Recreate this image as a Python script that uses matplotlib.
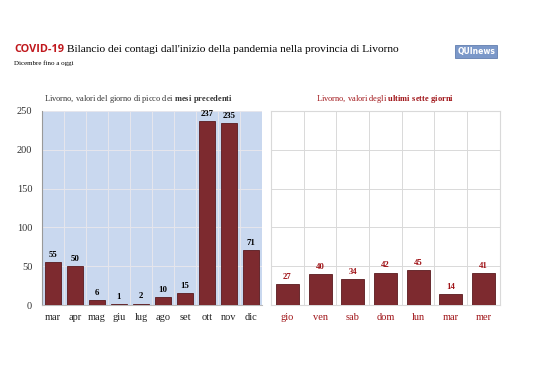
import numpy as np
import matplotlib.pyplot as plt

mesi = ['mar', 'apr', 'mag', 'giu', 'lug', 'ago', 'set', 'ott', 'nov', 'dic']
picchi = [55, 50, 6, 1, 2, 10, 15, 237, 235, 71]
giorni = ['gio', 'ven', 'sab', 'dom', 'lun', 'mar', 'mer']
ultimi = [27, 40, 34, 42, 45, 14, 41]
yticks = [0, 50, 100, 150, 200, 250]

bar_col = '#7d2a2f'
edge_col = '#5a1a1e'
red = '#a01418'
serif = 'Liberation Serif'

plt.rcParams['mathtext.fontset'] = 'custom'
plt.rcParams['mathtext.rm'] = serif
plt.rcParams['mathtext.bf'] = serif + ':bold'

fig = plt.figure(figsize=(5.38, 3.8), dpi=100)
fig.patch.set_facecolor('white')

# titolo
fig.text(0.026, 0.862, 'COVID-19', color='#c0171c', fontsize=7.8, fontweight='bold',
         family='Open Sans', va='baseline')
fig.text(0.125, 0.862, "Bilancio dei contagi dall'inizio della pandemia nella provincia di Livorno",
         fontsize=8.2, family=serif, va='baseline')
fig.text(0.026, 0.828, 'Dicembre fino a oggi', fontsize=5, family=serif, va='baseline')
fig.text(0.85, 0.858, 'QUInews', fontsize=5.5, fontweight='bold', color='white', family='DejaVu Sans',
         va='baseline', bbox=dict(boxstyle='square,pad=0.3', fc='#7b98c9', ec='#4f6fa4', lw=0.5))

# grafico sinistro
ax1 = fig.add_axes([0.078, 0.197, 0.409, 0.511])
x1 = np.arange(len(mesi))
ax1.set_facecolor('#c9d8ef')
ax1.bar(x1, picchi, width=0.7, color=bar_col, edgecolor=edge_col, linewidth=0.6, zorder=3)
for xi, v in zip(x1, picchi):
    ax1.text(xi, v + 4, str(v), ha='center', va='bottom', fontsize=6.3, fontweight='bold', family=serif)
ax1.set_xlim(-0.5, len(mesi) - 0.5)
ax1.set_ylim(0, 250)
ax1.set_yticks(yticks)
ax1.set_xticks(x1)
ax1.set_xticklabels(mesi, family=serif, fontsize=7.5, color='#222222')
ax1.set_yticklabels([str(t) for t in yticks], family=serif, fontsize=7.5, color='#333333')
ax1.set_xticks(np.arange(-0.5, len(mesi)), minor=True)
ax1.grid(which='minor', axis='x', color='#e6e6ec', lw=0.7, zorder=0)
ax1.grid(which='major', axis='y', color='#e6e6ec', lw=0.7, zorder=0)
ax1.tick_params(which='both', length=0)
ax1.tick_params(axis='x', pad=6)
ax1.tick_params(axis='y', pad=7)
for s in ax1.spines.values():
    s.set_visible(False)
ax1.spines['left'].set_visible(True)
ax1.spines['left'].set_color('#999999')
ax1.spines['bottom'].set_visible(True)
ax1.spines['bottom'].set_color('#bbbbbb')
ax1.text(0.44, 1.03, r'Livorno, valori del giorno di picco dei $\mathbf{mesi\ precedenti}$',
         transform=ax1.transAxes, ha='center', va='bottom', fontsize=6, family=serif, color='#333333')

# grafico destro
ax2 = fig.add_axes([0.504, 0.197, 0.425, 0.511])
x2 = np.arange(len(giorni))
ax2.set_facecolor('white')
ax2.bar(x2, ultimi, width=0.7, color=bar_col, edgecolor=edge_col, linewidth=0.6, zorder=3)
for xi, v in zip(x2, ultimi):
    ax2.text(xi, v + 4, str(v), ha='center', va='bottom', fontsize=6.3, fontweight='bold',
             family=serif, color=red)
ax2.set_xlim(-0.5, len(giorni) - 0.5)
ax2.set_ylim(0, 250)
ax2.set_yticks(yticks)
ax2.set_yticklabels([])
ax2.set_xticks(x2)
ax2.set_xticklabels(giorni, family=serif, fontsize=7.5, color=red)
ax2.set_xticks(np.arange(-0.5, len(giorni)), minor=True)
ax2.grid(which='minor', axis='x', color='#d9d9d9', lw=0.7, zorder=0)
ax2.grid(which='major', axis='y', color='#d9d9d9', lw=0.7, zorder=0)
ax2.tick_params(which='both', length=0)
ax2.tick_params(axis='x', pad=6)
for s in ax2.spines.values():
    s.set_color('#d9d9d9')
ax2.text(0.5, 1.03, r'Livorno, valori degli $\mathbf{ultimi\ sette\ giorni}$',
         transform=ax2.transAxes, ha='center', va='bottom', fontsize=6, family=serif, color=red)

fig.savefig('out.png', dpi=100, facecolor='white')
